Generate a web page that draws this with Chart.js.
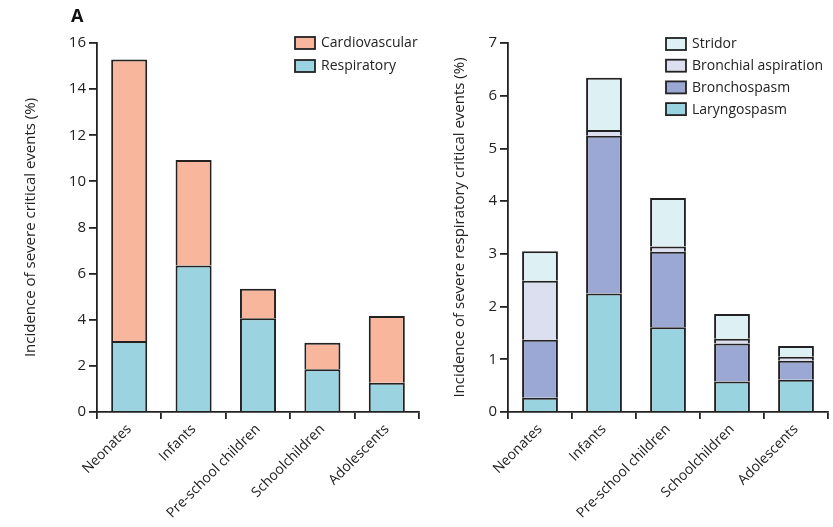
<!DOCTYPE html>
<html>
<head>
<meta charset="utf-8">
<script src="https://cdn.jsdelivr.net/npm/chart.js@4"></script>
<style>
  html, body { margin: 0; padding: 0; background: #fff; }
  #wrap { position: relative; width: 833px; height: 527px; }
  #left { position: absolute; left: 0; top: 0; }
  #right { position: absolute; left: 430px; top: 0; }
  #panel { position: absolute; left: 71px; top: 3px; font: bold 18px "Open Sans", sans-serif; color: #111; }
</style>
</head>
<body>
<div id="wrap">
  <canvas id="left" width="440" height="527"></canvas>
  <canvas id="right" width="403" height="527"></canvas>
  <div id="panel">A</div>
</div>
<script>
// age groups
const categories = ["Neonates", "Infants", "Pre-school children", "Schoolchildren", "Adolescents"];

// panel A left: severe critical events (%)
const respiratory = [3.08, 6.35, 4.06, 1.85, 1.27];
const cardiovascular = [12.2, 4.58, 1.28, 1.15, 2.89];

// panel A right: severe respiratory critical events (%)
const laryngospasm = [0.27, 2.25, 1.61, 0.58, 0.61];
const bronchospasm = [1.10, 2.99, 1.43, 0.72, 0.36];
const bronchialAspiration = [1.12, 0.11, 0.10, 0.09, 0.08];
const stridor = [0.56, 0.99, 0.92, 0.47, 0.20];

const leftTicks = [0, 2, 4, 6, 8, 10, 12, 14, 16];
const rightTicks = [0, 1, 2, 3, 4, 5, 6, 7];

const FONT = '"Open Sans", sans-serif';
const INK = "#222";

// legend drawn in the corner, top dataset first
function cornerLegend(x, y, step) {
  return {
    id: "cornerLegend",
    afterDraw(chart) {
      const ctx = chart.ctx;
      const sets = chart.data.datasets.slice().reverse();
      ctx.save();
      ctx.font = "14px " + FONT;
      ctx.textBaseline = "middle";
      sets.forEach((ds, i) => {
        const top = y + i * step;
        ctx.fillStyle = ds.backgroundColor;
        ctx.fillRect(x, top, 20, 12);
        ctx.strokeStyle = INK;
        ctx.lineWidth = 1.8;
        ctx.strokeRect(x, top, 20, 12);
        ctx.fillStyle = INK;
        ctx.fillText(ds.label, x + 26, top + 6.5);
      });
      ctx.restore();
    }
  };
}

function makeDataset(label, data, color) {
  return {
    label: label,
    data: data,
    backgroundColor: color,
    borderColor: INK,
    // no bottom edge, so stacked joins stay one line thick
    borderWidth: { top: 2, left: 2, right: 2, bottom: 0 },
    borderSkipped: false,
    barPercentage: 0.56,
    categoryPercentage: 1.0
  };
}

function makeOptions(ticks, max, title, yWidth, xHeight, pad) {
  return {
    responsive: false,
    animation: false,
    layout: { padding: pad },
    plugins: { legend: { display: false }, tooltip: { enabled: false } },
    scales: {
      x: {
        stacked: true,
        grid: { display: true, drawOnChartArea: false, drawTicks: true, tickLength: 7, color: INK, lineWidth: 1.8, offset: true },
        border: { display: true, color: INK, width: 1.8 },
        ticks: {
          color: INK,
          font: { family: FONT, size: 14 },
          maxRotation: 45,
          minRotation: 45,
          padding: 2
        },
        afterFit(scale) { scale.height = xHeight; }
      },
      y: {
        stacked: true,
        min: 0,
        max: max,
        afterBuildTicks(scale) { scale.ticks = ticks.map(v => ({ value: v })); },
        grid: { display: true, drawOnChartArea: false, drawTicks: true, tickLength: 8, color: INK, lineWidth: 1.8 },
        border: { display: true, color: INK, width: 1.8 },
        ticks: { color: INK, font: { family: FONT, size: 15 }, padding: 3 },
        title: { display: true, text: title, color: INK, font: { family: FONT, size: 15 }, padding: 0 },
        afterFit(scale) { scale.width = yWidth; }
      }
    }
  };
}

new Chart(document.getElementById("left"), {
  type: "bar",
  data: {
    labels: categories,
    datasets: [
      makeDataset("Respiratory", respiratory, "#9cd3e1"),
      makeDataset("Cardiovascular", cardiovascular, "#f8b69c")
    ]
  },
  options: makeOptions(leftTicks, 16, "Incidence of severe critical events (%)", 75, 115,
    { left: 22, right: 21, top: 43, bottom: 0 }),
  plugins: [cornerLegend(295, 37, 23)]
});

new Chart(document.getElementById("right"), {
  type: "bar",
  data: {
    labels: categories,
    datasets: [
      makeDataset("Laryngospasm", laryngospasm, "#9ad3e0"),
      makeDataset("Bronchospasm", bronchospasm, "#9ba8d4"),
      makeDataset("Bronchial aspiration", bronchialAspiration, "#dcdff0"),
      makeDataset("Stridor", stridor, "#ddf0f4")
    ]
  },
  options: makeOptions(rightTicks, 7, "Incidence of severe respiratory critical events (%)", 57, 115,
    { left: 21, right: 5, top: 43, bottom: 0 }),
  plugins: [cornerLegend(236, 38, 21.7)]
});
</script>
</body>
</html>
